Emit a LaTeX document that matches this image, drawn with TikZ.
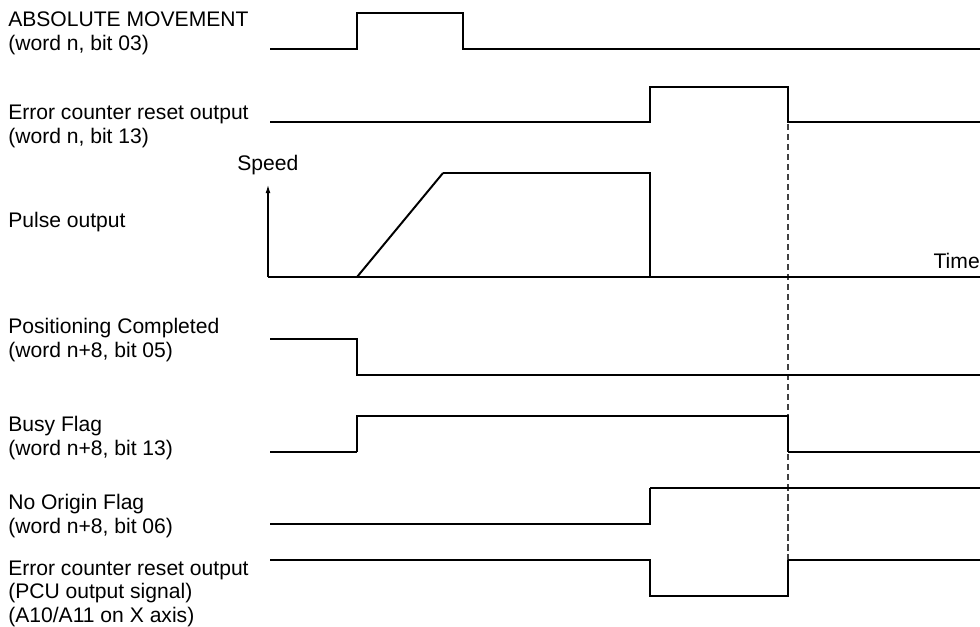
\documentclass[tikz,border=0pt]{standalone}
\usepackage{fontspec}
\setmainfont{Liberation Sans}
\usetikzlibrary{arrows.meta}
\tikzset{
  siglabel/.style={anchor=base west, align=left, inner sep=0pt, font=\fontsize{15}{16.4}\selectfont},
  sigline/.style={line width=1.4pt, line join=miter},
  heavyline/.style={line width=2.1pt},
  axisline/.style={line width=0.8pt},
  markline/.style={line width=0.8pt, black!75, dash pattern=on 0.16cm off 0.09cm},
}

\begin{document}
\begin{tikzpicture}[x=0.025cm, y=-0.025cm]
  \useasboundingbox (0,0) rectangle (980,626);

  % signal names (placed at the baseline of their last line)
  \node[siglabel] (labs) at (8,50) {ABSOLUTE MOVEMENT\\(word n, bit 03)};
  \node[siglabel] (lerr) at (8,143) {Error counter reset output\\(word n, bit 13)};
  \node[siglabel] (lpulse) at (8,227) {Pulse output};
  \node[siglabel] (lpos) at (8,357) {Positioning Completed\\(word n+8, bit 05)};
  \node[siglabel] (lbusy) at (8,455) {Busy Flag\\(word n+8, bit 13)};
  \node[siglabel] (lorig) at (8,533) {No Origin Flag\\(word n+8, bit 06)};
  \node[siglabel] (lpcu) at (8,622) {Error counter reset output\\(PCU output signal)\\(A10/A11 on X axis)};
  \node[siglabel] (speed) at (237,170) {Speed};
  \node[siglabel, anchor=base east] (time) at (980,268) {Time};

  % timing marks
  \coordinate (t1) at (357,0);
  \coordinate (t2) at (463,0);
  \coordinate (t3) at (650,0);
  \coordinate (t4) at (788,0);

  \draw[markline] (t4 |- 0,124) -- (t4 |- 0,560);

  % waveforms
  \draw[sigline] (270,49) -- (t1 |- 0,49) -- (t1 |- 0,13) -- (t2 |- 0,13) -- (t2 |- 0,49) -- (980,49);
  \draw[sigline] (270,122) -- (t3 |- 0,122) -- (t3 |- 0,87) -- (t4 |- 0,87) -- (t4 |- 0,122) -- (980,122);

  \draw[axisline, -{Latex[length=2mm, width=1.2mm]}] (268,277) -- (268,185);
  \draw[axisline] (268,277) -- (980,277);
  \draw[sigline] (t1 |- 0,277) -- (443,173);
  \draw[heavyline] (443,173) -- (t3 |- 0,173) -- (t3 |- 0,277);

  \draw[sigline] (270,339) -- (t1 |- 0,339) -- (t1 |- 0,375) -- (980,375);
  \draw[axisline] (270,452) -- (t1 |- 0,452);
  \draw[sigline] (t1 |- 0,452) -- (t1 |- 0,416) -- (t4 |- 0,416) -- (t4 |- 0,452);
  \draw[axisline] (t4 |- 0,452) -- (980,452);
  \draw[sigline] (270,524) -- (t3 |- 0,524) -- (t3 |- 0,488);
  \draw[heavyline] (t3 |- 0,488) -- (980,488);
  \draw[sigline] (270,560) -- (t3 |- 0,560) -- (t3 |- 0,596) -- (t4 |- 0,596) -- (t4 |- 0,560);
  \draw[heavyline] (t4 |- 0,560) -- (980,560);
\end{tikzpicture}
\end{document}
